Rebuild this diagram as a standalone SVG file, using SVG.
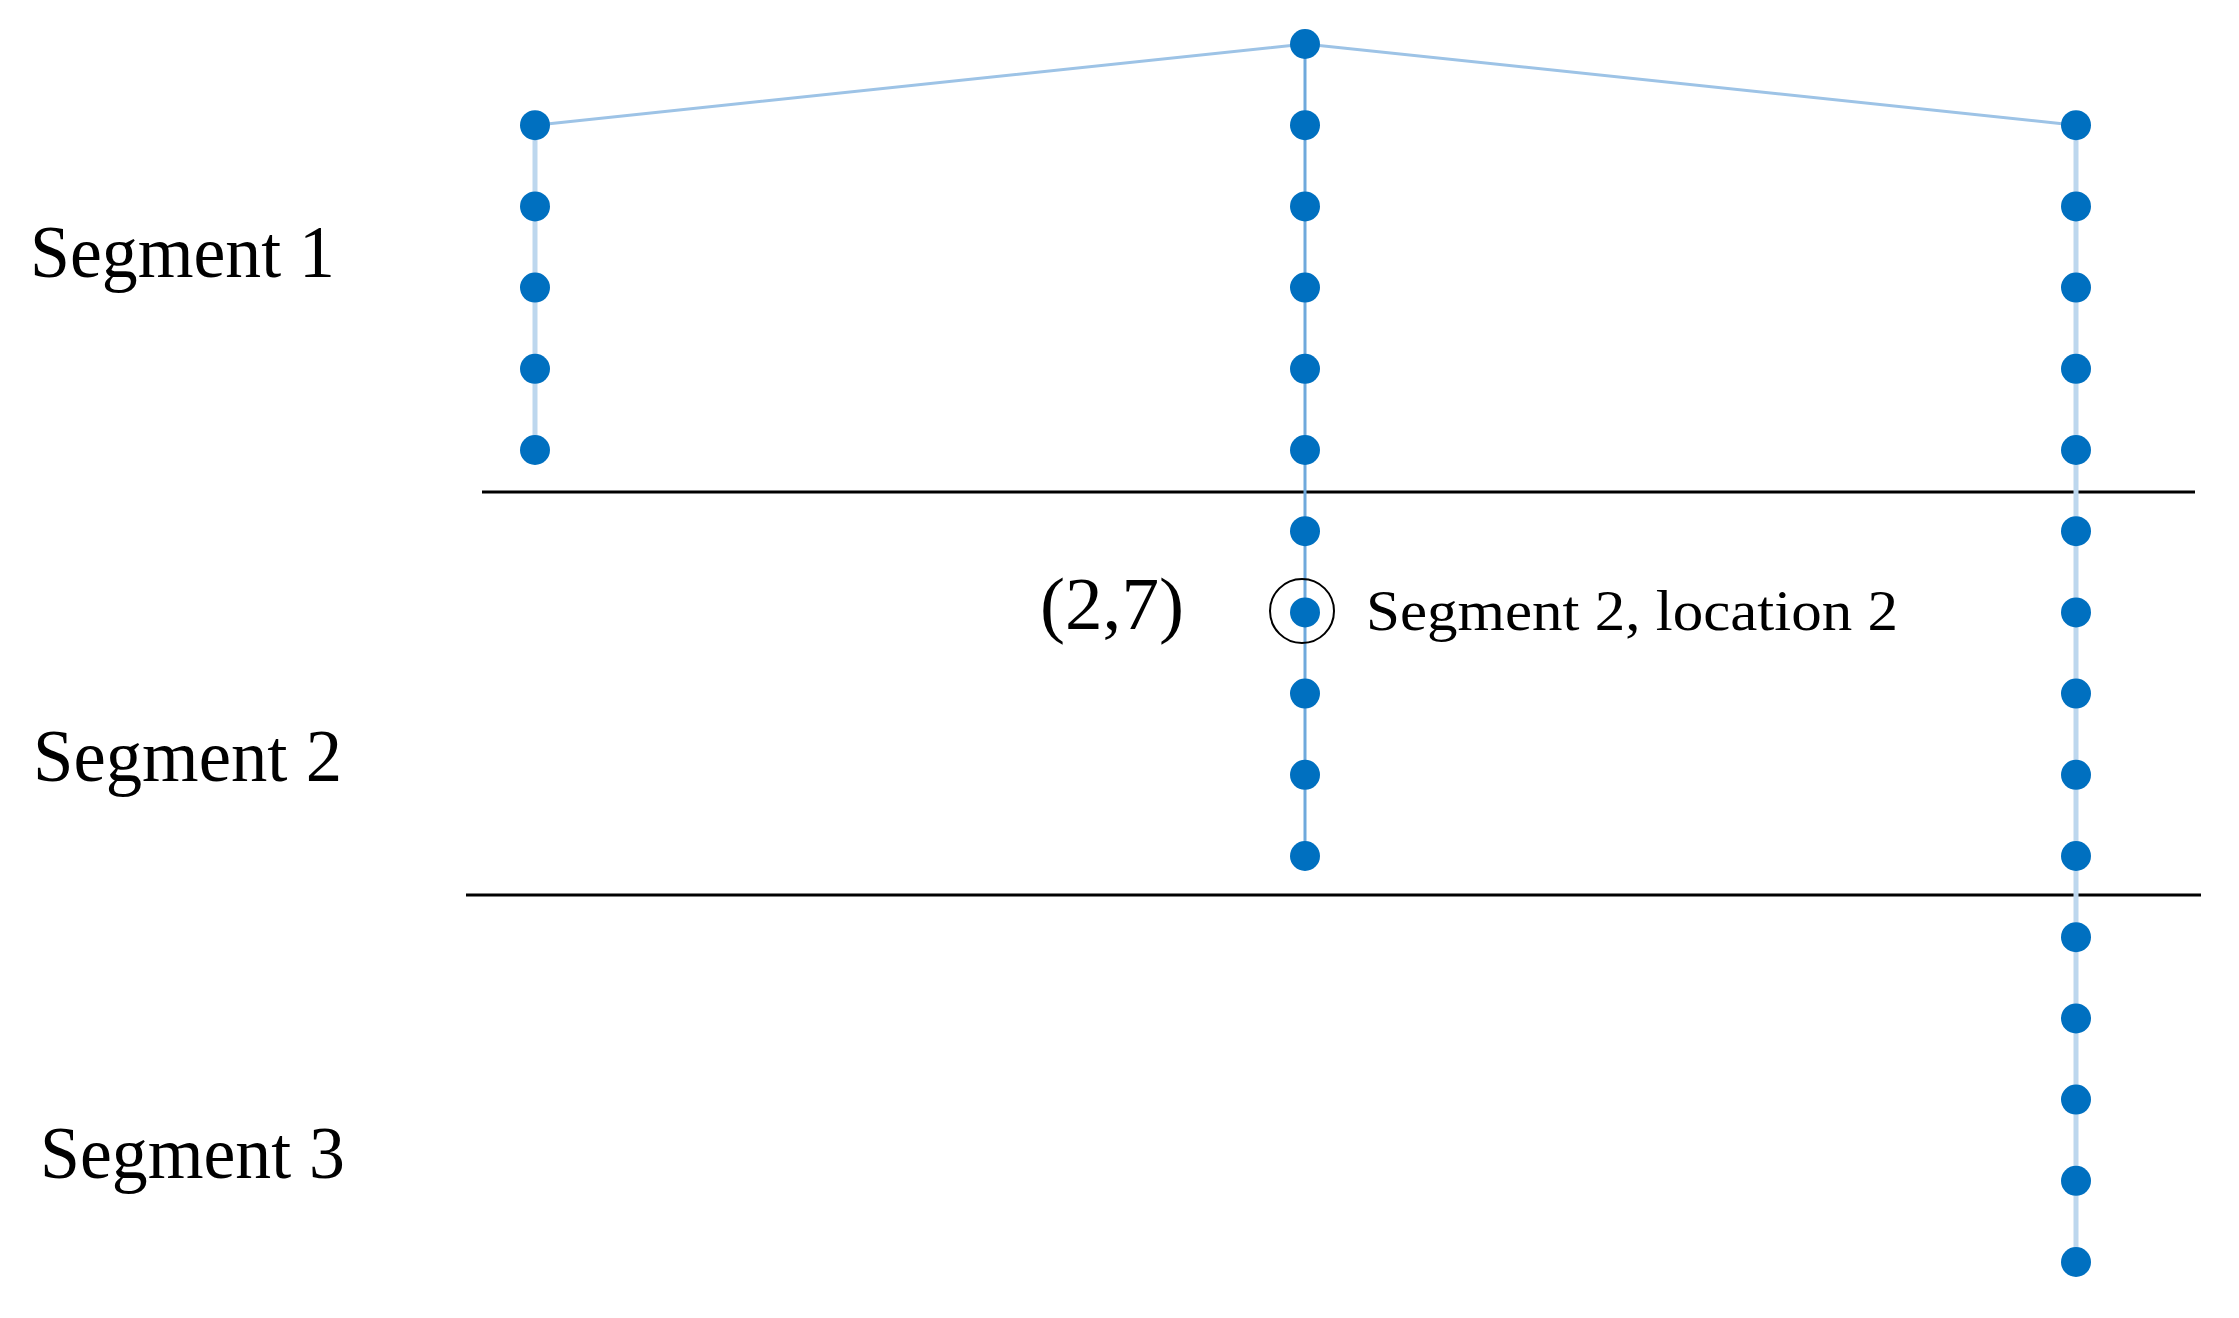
<svg xmlns="http://www.w3.org/2000/svg" width="2239" height="1318" viewBox="0 0 2239 1318">
<style>
.dot{fill:#0070C0}
.lbl{font-family:"Liberation Serif","Times New Roman",serif;fill:#000}
.div{stroke:#000;stroke-width:3;fill:none}
.side{stroke:#BDD7EE;stroke-width:5;fill:none}
.mid{stroke:#6FA9DC;stroke-width:3;fill:none}
.top{stroke:#9DC3E6;stroke-width:3;fill:none}
</style>
<rect width="2239" height="1318" fill="#fff"/>
<g id="dividers">
<line class="div" x1="482" y1="492" x2="2195" y2="492"/>
<line class="div" x1="466" y1="895" x2="2201" y2="895"/>
</g>
<g id="connectors">
<polyline class="top" points="535,125.2 1305,44 2076,125.2"/>
<line class="side" x1="535" y1="125.2" x2="535" y2="450"/>
<line class="mid" x1="1305" y1="44" x2="1305" y2="856"/>
<line class="side" x1="2076" y1="125.2" x2="2076" y2="1262"/>
</g>
<g id="col1">
<g id="n1-1"><circle class="dot" cx="535" cy="125.2" r="15"/></g>
<g id="n1-2"><circle class="dot" cx="535" cy="206.4" r="15"/></g>
<g id="n1-3"><circle class="dot" cx="535" cy="287.6" r="15"/></g>
<g id="n1-4"><circle class="dot" cx="535" cy="368.8" r="15"/></g>
<g id="n1-5"><circle class="dot" cx="535" cy="450" r="15"/></g>
</g>
<g id="col2">
<g id="n2-0"><circle class="dot" cx="1305" cy="44" r="15"/></g>
<g id="n2-1"><circle class="dot" cx="1305" cy="125.2" r="15"/></g>
<g id="n2-2"><circle class="dot" cx="1305" cy="206.4" r="15"/></g>
<g id="n2-3"><circle class="dot" cx="1305" cy="287.6" r="15"/></g>
<g id="n2-4"><circle class="dot" cx="1305" cy="368.8" r="15"/></g>
<g id="n2-5"><circle class="dot" cx="1305" cy="450" r="15"/></g>
<g id="n2-6"><circle class="dot" cx="1305" cy="531.2" r="15"/></g>
<g id="n2-7"><circle class="dot" cx="1305" cy="612.4" r="15"/><circle cx="1302" cy="611" r="32" fill="none" stroke="#000" stroke-width="2"/></g>
<g id="n2-8"><circle class="dot" cx="1305" cy="693.6" r="15"/></g>
<g id="n2-9"><circle class="dot" cx="1305" cy="774.8" r="15"/></g>
<g id="n2-10"><circle class="dot" cx="1305" cy="856" r="15"/></g>
</g>
<g id="col3">
<g id="n3-1"><circle class="dot" cx="2076" cy="125.2" r="15"/></g>
<g id="n3-2"><circle class="dot" cx="2076" cy="206.4" r="15"/></g>
<g id="n3-3"><circle class="dot" cx="2076" cy="287.6" r="15"/></g>
<g id="n3-4"><circle class="dot" cx="2076" cy="368.8" r="15"/></g>
<g id="n3-5"><circle class="dot" cx="2076" cy="450" r="15"/></g>
<g id="n3-6"><circle class="dot" cx="2076" cy="531.2" r="15"/></g>
<g id="n3-7"><circle class="dot" cx="2076" cy="612.4" r="15"/></g>
<g id="n3-8"><circle class="dot" cx="2076" cy="693.6" r="15"/></g>
<g id="n3-9"><circle class="dot" cx="2076" cy="774.8" r="15"/></g>
<g id="n3-10"><circle class="dot" cx="2076" cy="856" r="15"/></g>
<g id="n3-11"><circle class="dot" cx="2076" cy="937.2" r="15"/></g>
<g id="n3-12"><circle class="dot" cx="2076" cy="1018.4" r="15"/></g>
<g id="n3-13"><circle class="dot" cx="2076" cy="1099.6" r="15"/></g>
<g id="n3-14"><circle class="dot" cx="2076" cy="1180.8" r="15"/></g>
<g id="n3-15"><circle class="dot" cx="2076" cy="1262" r="15"/></g>
</g>
<g id="labels">
<text class="lbl" x="30" y="277" font-size="74" textLength="305" lengthAdjust="spacingAndGlyphs">Segment 1</text>
<text class="lbl" x="33" y="781" font-size="74" textLength="309" lengthAdjust="spacingAndGlyphs">Segment 2</text>
<text class="lbl" x="40" y="1178" font-size="74" textLength="305" lengthAdjust="spacingAndGlyphs">Segment 3</text>
<text class="lbl" x="1040" y="629" font-size="74" textLength="144" lengthAdjust="spacingAndGlyphs">(2,7)</text>
<text class="lbl" x="1366" y="630" font-size="58" textLength="532" lengthAdjust="spacingAndGlyphs">Segment 2, location 2</text>
</g>
</svg>
